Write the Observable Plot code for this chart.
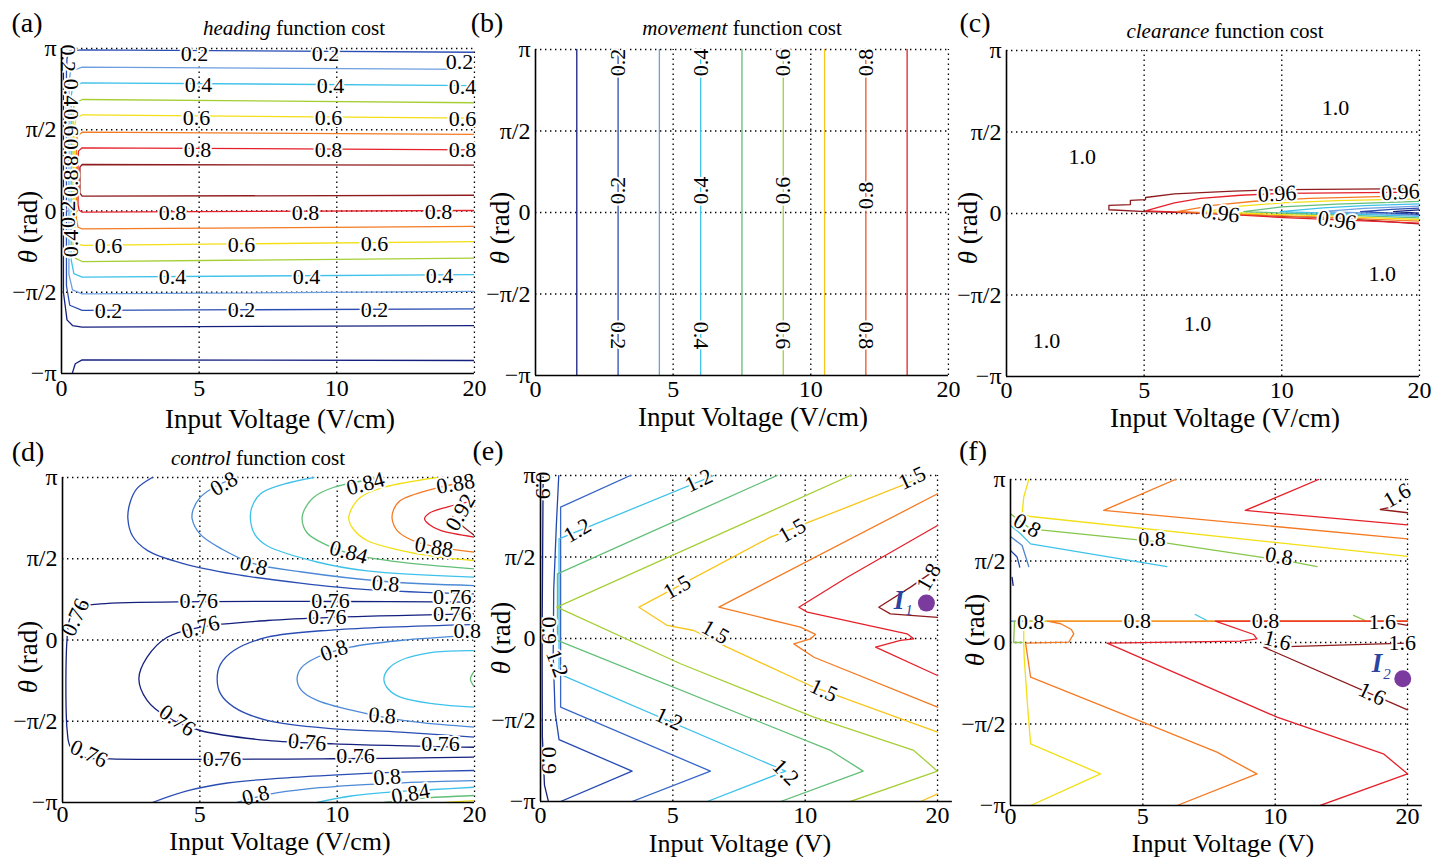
<!DOCTYPE html>
<html><head><meta charset="utf-8">
<script src="https://cdn.jsdelivr.net/npm/d3@7"></script>
<script src="https://cdn.jsdelivr.net/npm/@observablehq/plot@0.6"></script>
<style>
body{margin:0;background:#fff;}
#root{position:relative;width:1445px;height:857px;overflow:hidden;font-family:"Liberation Serif","Times New Roman",serif;color:#000;background:#fff;}
.abs{position:absolute;white-space:nowrap;line-height:1;}
</style></head><body><div id="root"></div>
<script>
// ---------- shared axis data ----------
const xTicks = [0, 5, 10, 15];
const xTickText = ["0", "5", "10", "20"];
const yTicks = [-1, -0.5, 0, 0.5, 1];
const yTickText = ["\u2212\u03c0", "\u2212\u03c0/2", "0", "\u03c0/2", "\u03c0"];

// ---------- (a) heading function cost ----------
const headingLevels = [0.1, 0.2, 0.3, 0.4, 0.5, 0.6, 0.7, 0.8, 0.9];
const headingLines = [
  {level: 0.1, pts: [[0.07,1],[0.07,-0.5],[0.2,-0.67],[0.4,-0.705],[0.75,-0.715],[15,-0.705]]},
  {level: 0.1, pts: [[0.39,-1],[0.5,-0.94],[0.75,-0.916],[15,-0.92]]},
  {level: 0.2, pts: [[15,0.977],[0.75,0.992],[0.3,0.985],[0.2,0.94],[0.18,0.85],[0.18,-0.46],[0.3,-0.58],[0.75,-0.612],[15,-0.602]]},
  {level: 0.3, pts: [[15,0.871],[0.75,0.885],[0.33,0.86],[0.27,0.79],[0.27,-0.39],[0.4,-0.485],[0.75,-0.51],[15,-0.495]]},
  {level: 0.4, pts: [[15,0.772],[0.75,0.789],[0.4,0.765],[0.35,0.7],[0.35,-0.3],[0.45,-0.385],[0.75,-0.407],[15,-0.391]]},
  {level: 0.5, pts: [[15,0.666],[0.75,0.686],[0.46,0.66],[0.42,0.6],[0.42,-0.22],[0.5,-0.29],[0.75,-0.311],[15,-0.29]]},
  {level: 0.6, pts: [[15,0.571],[0.75,0.592],[0.52,0.57],[0.48,0.52],[0.48,-0.14],[0.55,-0.2],[0.75,-0.212],[15,-0.188]]},
  {level: 0.7, pts: [[15,0.471],[0.75,0.485],[0.57,0.46],[0.54,0.42],[0.54,-0.05],[0.6,-0.1],[0.75,-0.11],[15,-0.095]]},
  {level: 0.8, pts: [[15,0.376],[0.75,0.389],[0.62,0.37],[0.6,0.33],[0.6,0.04],[0.64,0.005],[0.75,-0.007],[15,0.003]]},
  {level: 0.9, pts: [[15,0.282],[0.75,0.286],[0.67,0.27],[0.67,0.11],[0.75,0.091],[15,0.097]]}
];
const headingLabels = [
  [4.83,0.969,"0.2"],[9.59,0.969,"0.2"],[14.46,0.92,"0.2"],
  [4.98,0.778,"0.4"],[9.77,0.772,"0.4"],[14.57,0.766,"0.4"],
  [4.9,0.575,"0.6"],[9.7,0.575,"0.6"],[14.57,0.569,"0.6"],
  [4.94,0.378,"0.8"],[9.7,0.378,"0.8"],[14.57,0.378,"0.8"],
  [4.03,-0.009,"0.8"],[8.86,-0.009,"0.8"],[13.69,-0.003,"0.8"],
  [1.71,-0.218,"0.6"],[6.54,-0.206,"0.6"],[11.37,-0.2,"0.6"],
  [4.03,-0.409,"0.4"],[8.9,-0.403,"0.4"],[13.73,-0.397,"0.4"],
  [1.71,-0.618,"0.2"],[6.54,-0.612,"0.2"],[11.37,-0.606,"0.2"],
  [0.22,0.94,"0.2",90],[0.36,0.73,"0.4",90],[0.36,0.545,"0.6",90],[0.36,0.36,"0.8",90],
  [0.33,0.17,"0.8",-90],[0.25,-0.02,"0.2",-90],[0.36,-0.2,"0.4",-90]
];

// ---------- (b) movement function cost ----------
const movementLevels = [0.1, 0.2, 0.3, 0.4, 0.5, 0.6, 0.7, 0.8, 0.9];
const movementVoltage = [1.5, 3, 4.5, 6, 7.5, 9, 10.5, 12, 13.5];
const movementLabels = [
  [3,0.92,"0.2",-90],[6,0.92,"0.4",-90],[9,0.92,"0.6",-90],[12,0.92,"0.8",-90],
  [3,0.135,"0.2",-90],[6,0.135,"0.4",-90],[9,0.135,"0.6",-90],[12,0.104,"0.8",-90],
  [3,-0.755,"0.2",90],[6,-0.755,"0.4",90],[9,-0.755,"0.6",90],[12,-0.755,"0.8",90]
];

// ---------- (c) clearance function cost ----------
const clearanceLevels = [0.91, 0.92, 0.93, 0.94, 0.95, 0.96, 0.97, 0.98, 0.99];
const clearanceLines = [
  {level: 0.99, pts: [[15,-0.064],[11.9,-0.027],[10.07,-0.018],[7.05,0.002],[5.05,0.012],[3.72,0.023],[3.72,0.05],[4.5,0.055],[4.5,0.08],[5.05,0.085],[5.05,0.098],[6.1,0.12],[8.25,0.137],[10.07,0.147],[15,0.153]]},
  {level: 0.98, pts: [[15,-0.059],[10.07,-0.025],[7.05,0.004],[5.05,0.016],[6.1,0.065],[7.05,0.093],[8.5,0.112],[10.07,0.124],[15,0.131]]},
  {level: 0.97, pts: [[15,-0.047],[12.5,-0.03],[10.07,-0.015],[8,0.0],[6.2,0.012],[7.5,0.05],[9,0.075],[11,0.093],[15,0.11]]},
  {level: 0.96, pts: [[15,-0.037],[13,-0.024],[11,-0.012],[9,0.0],[7.17,0.012],[8.5,0.045],[10,0.065],[12,0.079],[15,0.09]]},
  {level: 0.95, pts: [[15,-0.027],[13,-0.015],[10.5,0.0],[8.62,0.012],[10,0.04],[12,0.058],[15,0.075]]},
  {level: 0.94, pts: [[15,-0.018],[12,0.0],[9.95,0.012],[11.5,0.035],[13,0.048],[15,0.059]]},
  {level: 0.93, pts: [[15,-0.012],[13,0.003],[11.4,0.012],[13,0.032],[15,0.045]]},
  {level: 0.92, pts: [[15,-0.006],[12.86,0.012],[14,0.025],[15,0.033]]},
  {level: 0.91, pts: [[15,0.002],[14.06,0.012],[15,0.022]]}
];
const clearanceLabels = [
  [11.95,0.65,"1.0"],[2.75,0.344,"1.0"],[13.65,-0.368,"1.0"],[6.94,-0.675,"1.0"],[1.45,-0.779,"1.0"],
  [9.83,0.121,"0.96",-3],[7.77,0.002,"0.96",8],[14.31,0.131,"0.96",-3],[12.01,-0.043,"0.96",8]
];

// ---------- (d) control function cost ----------
const controlLevels = [0.76, 0.78, 0.8, 0.82, 0.84, 0.86, 0.88, 0.9, 0.92];
const controlLines = [
  {level: 0.76, pts: [[15,0.233],[9.88,0.237],[5,0.236],[1.38,0.222],[0.65,0.202],[0.29,0.14],[0.17,0.017],[0.17,-0.557],[0.29,-0.659],[0.78,-0.721],[1.75,-0.731],[9.88,-0.731],[15,-0.721]]},
  {level: 0.76, pts: [[15,0.161],[9.88,0.14],[7.45,0.12],[5.02,0.079],[3.81,0.017],[3.08,-0.106],[2.78,-0.239],[3.08,-0.372],[3.81,-0.475],[5.02,-0.557],[7.45,-0.618],[9.88,-0.639],[15,-0.66]]},
  {level: 0.78, pts: [[3.27,1],[2.7,0.93],[2.45,0.84],[2.38,0.746],[2.55,0.64],[3.1,0.55],[4.4,0.47],[6.24,0.405],[8.66,0.35],[11.09,0.31],[15,0.284]]},
  {level: 0.78, pts: [[15,0.095],[9.88,0.0625],[7.45,0.017],[6.24,-0.065],[5.75,-0.15],[5.63,-0.239],[5.75,-0.33],[6.24,-0.413],[7.45,-0.495],[9.88,-0.547],[12.3,-0.567],[15,-0.598]]},
  {level: 0.78, pts: [[3.27,-1],[4.5,-0.93],[6,-0.88],[8,-0.85],[10,-0.83],[12,-0.815],[15,-0.803]]},
  {level: 0.8, pts: [[6.36,1],[5.63,0.951],[5.02,0.879],[4.75,0.8],[4.72,0.746],[5.02,0.65],[5.8,0.56],[6.96,0.47],[8.66,0.42],[11.76,0.36],[15,0.335]]},
  {level: 0.8, pts: [[15,0.028],[12.3,-0.003],[10.48,-0.044],[9.27,-0.106],[8.7,-0.17],[8.54,-0.239],[8.7,-0.31],[9.27,-0.372],[11.09,-0.454],[12.91,-0.506],[15,-0.536]]},
  {level: 0.8, pts: [[6.36,-1],[7.5,-0.95],[9,-0.915],[11,-0.89],[13,-0.875],[15,-0.865]]},
  {level: 0.82, pts: [[9.15,1],[8.06,0.959],[7.21,0.9],[6.9,0.82],[6.84,0.746],[7.0,0.65],[7.45,0.58],[9.27,0.48],[11.09,0.425],[15,0.387]]},
  {level: 0.82, pts: [[15,-0.065],[13.52,-0.075],[12.3,-0.126],[11.85,-0.18],[11.7,-0.239],[11.85,-0.3],[12.3,-0.352],[13.52,-0.393],[15,-0.413]]},
  {level: 0.82, pts: [[9.27,-1],[10.5,-0.96],[12,-0.935],[13.5,-0.92],[15,-0.906]]},
  {level: 0.84, pts: [[11.7,1],[9.88,0.94],[9.15,0.879],[8.8,0.8],[8.72,0.746],[8.9,0.66],[9.6,0.585],[10.48,0.53],[12.3,0.479],[15,0.438]]},
  {level: 0.84, pts: [[15,-0.19],[14.85,-0.24],[15,-0.29]]},
  {level: 0.84, pts: [[11.7,-1],[13,-0.975],[15,-0.957]]},
  {level: 0.86, pts: [[13.64,1],[11.7,0.94],[10.85,0.879],[10.5,0.8],[10.42,0.746],[10.6,0.68],[11.09,0.612],[12.3,0.551],[13.52,0.514],[15,0.489]]},
  {level: 0.86, pts: [[13.96,-1],[15,-0.988]]},
  {level: 0.88, pts: [[15,0.982],[13.5,0.93],[12.3,0.858],[12.05,0.8],[12.0,0.746],[12.2,0.67],[12.91,0.602],[15,0.54]]},
  {level: 0.9, pts: [[15,0.858],[14.0,0.818],[13.35,0.78],[13.18,0.746],[13.35,0.71],[13.76,0.674],[15,0.633]]},
  {level: 0.92, pts: [[14.2,0.76],[14.5,0.71],[15,0.643]]}
];
const controlLabels = [
  [5.87,0.961,"0.8",-30],[11.03,0.961,"0.84",-15],[14.31,0.961,"0.88",-10],[14.49,0.786,"0.92",-60],
  [6.96,0.458,"0.8",15],[10.42,0.54,"0.84",15],[13.52,0.571,"0.88",10],[11.76,0.346,"0.8",5],
  [4.96,0.243,"0.76"],[9.76,0.243,"0.76"],[14.19,0.263,"0.76"],
  [5.02,0.079,"0.76",-15],[9.64,0.141,"0.76"],[14.19,0.161,"0.76"],[14.73,0.058,"0.8"],
  [0.47,0.14,"0.76",-65],[9.88,-0.065,"0.8",-20],[4.18,-0.495,"0.76",35],[11.64,-0.465,"0.8",5],
  [8.91,-0.629,"0.76",5],[13.76,-0.639,"0.76"],
  [0.96,-0.7,"0.76",25],[5.81,-0.731,"0.76"],[10.67,-0.711,"0.76"],
  [11.82,-0.844,"0.8",-5],[7.03,-0.957,"0.8",-15],[12.67,-0.946,"0.84",-10]
];

// ---------- (e) total cost, input I1 ----------
const totalELevels = [0.9, 1.0, 1.1, 1.2, 1.3, 1.4, 1.5, 1.6, 1.7, 1.8];
const totalELines = [
  {level: 0.9, pts: [[0.1,1],[0.08,0.5],[0.06,0],[0.07,-0.6],[0.15,-0.9],[0.3,-1]]},
  {level: 1.0, pts: [[0.69,1],[0.6,0.7],[0.5,0.3],[0.48,-0.1],[0.55,-0.45],[0.7,-0.62],[3.46,-0.814],[0.76,-1]]},
  {level: 1.1, pts: [[3.4,1],[0.76,0.806],[0.76,-0.421],[6.42,-0.814],[3.46,-1]]},
  {level: 1.2, pts: [[6.55,1],[0.7,0.611],[0.7,-0.217],[9.26,-0.814],[6.3,-1]]},
  {level: 1.3, pts: [[8.94,1],[0.64,0.397],[0.64,-0.012],[10.96,-0.687],[12.19,-0.814],[9.07,-1]]},
  {level: 1.4, pts: [[11.71,1],[0.62,0.192],[5.29,-0.155],[10.33,-0.483],[14.1,-0.687],[15,-0.814],[11.71,-1]]},
  {level: 1.5, pts: [[14.6,1],[11.59,0.806],[8.69,0.622],[3.72,0.192],[4.79,0.08],[5.79,0.049],[7.05,-0.053],[10.33,-0.299],[15,-0.575]]},
  {level: 1.5, pts: [[14.36,-1],[15,-0.953]]},
  {level: 1.6, pts: [[15,0.888],[6.74,0.192],[9.82,0.07],[10.39,0.025],[10.2,-0.002],[9.57,-0.033],[10.33,-0.115],[15,-0.421]]},
  {level: 1.7, pts: [[15,0.693],[11.59,0.376],[9.76,0.192],[10.08,0.162],[13.85,0.029],[14.1,-0.002],[13.6,-0.012],[12.66,-0.053],[15,-0.227]]},
  {level: 1.8, pts: [[15,0.43],[13.98,0.315],[12.78,0.192],[13.22,0.151],[15,0.13]]}
];
const totalELabels = [
  [0.1,0.939,"0.9",90],[0.31,0.049,"0.9",90],[0.31,-0.748,"0.9",90],
  [1.39,0.663,"1.2",-30],[5.98,0.969,"1.2",-25],[0.63,-0.153,"1.2",70],[4.85,-0.493,"1.2",25],[9.26,-0.82,"1.2",45],
  [5.16,0.315,"1.5",-30],[9.51,0.663,"1.5",-30],[14.04,0.985,"1.5",-25],[6.61,0.039,"1.5",30],[10.7,-0.319,"1.5",25],
  [14.67,0.376,"1.8",-60]
];
const totalEPoints = [{name: "I", sub: "1", x: 14.58, y: 0.217, lx: 13.54, ly: 0.237}];

// ---------- (f) total cost, input I2 ----------
const totalFLevels = [0.0, 0.2, 0.4, 0.6, 0.8, 1.0, 1.2, 1.4, 1.6];
const totalFLines = [
  {level: 0.0, pts: [[0.06,0.4],[0.1,0.35]]},
  {level: 0.2, pts: [[0,0.564],[0.25,0.524],[0.35,0.462]]},
  {level: 0.4, pts: [[0,0.65],[0.44,0.595],[0.69,0.466]]},
  {level: 0.4, pts: [[0,0.131],[1.38,0.131]]},
  {level: 0.6, pts: [[0,0.718],[0.38,0.667],[0.755,0.605],[5.91,0.466]]},
  {level: 0.6, pts: [[6.98,0.172],[7.42,0.135]]},
  {level: 0.8, pts: [[0,0.789],[0.755,0.697],[5.66,0.616],[10.7,0.493],[11.58,0.466]]},
  {level: 0.8, pts: [[0.15,0.131],[0.12,0.0],[0.44,0.0]]},
  {level: 0.8, pts: [[12.96,0.166],[13.4,0.135]]},
  {level: 1.0, pts: [[0.69,1],[0.5,0.892],[0.44,0.789],[0.755,0.773],[15,0.528]]},
  {level: 1.0, pts: [[15,0.131],[0.5,0.131],[0.5,0.0],[0.52,-0.1],[0.57,-0.213],[0.65,-0.4],[0.76,-0.622],[3.4,-0.806],[0.76,-1]]},
  {level: 1.2, pts: [[6.23,1],[3.52,0.81],[15,0.636]]},
  {level: 1.2, pts: [[15,0.131],[1.4,0.131],[1.9,0.115],[2.3,0.08],[2.39,0.053],[2.2,0.002],[0.57,-0.004],[0.76,-0.213],[5.16,-0.499],[7.8,-0.673],[9.31,-0.806],[6.29,-1]]},
  {level: 1.4, pts: [[11.64,1],[8.87,0.81],[15,0.722]]},
  {level: 1.4, pts: [[15,0.131],[7.74,0.131],[9.19,0.049],[9.31,0.022],[8.68,0.008],[3.65,-0.004],[10.07,-0.458],[14.09,-0.683],[15,-0.806],[11.7,-1]]},
  {level: 1.6, pts: [[14.47,0.834],[13.97,0.816],[15,0.796]]},
  {level: 1.6, pts: [[14.2,0.128],[15,0.105]]},
  {level: 1.6, pts: [[15,-0.004],[9.57,-0.029],[15,-0.413]]}
];
const totalFLabels = [
  [14.61,0.902,"1.6",-30],[14.04,0.124,"1.6"],[10.08,0.012,"1.6",15],[14.8,0.0,"1.6"],[13.66,-0.315,"1.6",25],
  [0.63,0.718,"0.8",30],[5.35,0.636,"0.8"],[10.14,0.528,"0.8",10],
  [0.76,0.124,"0.8"],[4.79,0.135,"0.8"],[9.63,0.135,"0.8"]
];
const totalFPoints = [{name: "I", sub: "2", x: 14.82, y: -0.223, lx: 13.85, ly: -0.131}];

// ---------- styles / layout (not data) ----------
const FONT = '"Liberation Serif","Times New Roman",serif';
const C = {navy:"#14207e", blue:"#2a4db3", lblue:"#6e9fe0", cyan:"#3fc2ea", green:"#62bf78",
  ygreen:"#a6cf36", yellow:"#f2df14", gold:"#f8c61a", orange:"#f57a22", ored:"#f0552a", red:"#e6202a", dred:"#8e1b1d"};
const palettes = {
  a: [C.navy, C.blue, C.lblue, C.cyan, C.ygreen, C.yellow, C.orange, C.red, C.dred],
  b: [C.navy, C.blue, C.lblue, C.cyan, C.green, C.ygreen, C.gold, C.ored, C.red],
  c: [C.navy, C.blue, C.lblue, C.cyan, C.green, C.yellow, C.orange, C.red, C.dred],
  d: [C.navy, C.blue, "#4c8ad6", C.cyan, C.green, C.yellow, C.orange, C.red, C.dred],
  e: [C.navy, "#2448b0", "#3766c6", C.cyan, C.green, C.ygreen, C.gold, C.orange, C.red, C.dred],
  f: [C.navy, "#2448b0", "#4f86d0", C.cyan, "#86c64a", C.yellow, C.orange, C.red, C.dred]
};
const layout = {
  a: {L: 61, T: 48, H: 325, pxu: 27.53, xmax: 15, pad: 5},
  b: {L: 535, T: 49, H: 326, pxu: 27.53, xmax: 15, pad: 4},
  c: {L: 1006, T: 50, H: 326, pxu: 27.53, xmax: 15, pad: 4},
  d: {L: 62, T: 477, H: 325, pxu: 27.47, xmax: 15, pad: 2},
  e: {L: 540, T: 475, H: 326, pxu: 26.47, xmax: 15.56, pad: 4},
  f: {L: 1010, T: 479, H: 326, pxu: 26.47, xmax: 15.56, pad: 1}
};
const root = document.getElementById("root");

function drawPanel(key, lines, labels, levels, curve, points) {
  const g = layout[key];
  const ml = 72, mr = 16, mt = 16, mb = 38;
  const width = ml + g.xmax * g.pxu + mr;
  const height = mt + g.H + mb;
  const rows = [];
  lines.forEach((ln, i) => ln.pts.forEach(([x, y]) => rows.push({id: i, level: ln.level, x, y})));
  const dotted = {stroke: "#000", strokeWidth: 1.3, strokeDasharray: "1.4,3.6"};
  const marks = [
    Plot.ruleY([-0.5, 0, 0.5, 1], {x1: 0, x2: 15, ...dotted}),
    Plot.ruleX([5, 10, 15], {y1: -1, y2: 1, ...dotted}),
    Plot.line(rows, {x: "x", y: "y", z: "id", stroke: "level", strokeWidth: 1.3, curve, clip: true}),
    Plot.text(labels, {x: d => d[0], y: d => d[1], text: d => d[2], rotate: d => d[3] || 0,
      fontSize: 22, fontFamily: FONT, fill: "#000", stroke: "#fff", strokeWidth: 4})
  ];
  if (points) {
    marks.push(Plot.dot(points, {x: "x", y: "y", r: 8.5, fill: "#7a3a9e", stroke: "none"}));
    marks.push(Plot.text(points, {x: "lx", y: "ly", text: "name", fontSize: 27, fontFamily: FONT,
      fontStyle: "italic", fontWeight: "bold", fill: "#2b44a0"}));
    marks.push(Plot.text(points, {x: "lx", y: "ly", text: "sub", dx: 10, dy: 10, fontSize: 15, fontFamily: FONT,
      fontStyle: "italic", fill: "#2b44a0"}));
  }
  marks.push(
    Plot.ruleX([0], {y1: -1, y2: 1, stroke: "#000", strokeWidth: 1.6}),
    Plot.ruleY([-1], {x1: 0, x2: g.xmax, stroke: "#000", strokeWidth: 1.6}),
    Plot.axisX(xTicks, {tickFormat: d => xTickText[xTicks.indexOf(d)], tickSize: 0, tickPadding: g.pad, label: null, fontSize: 24}),
    Plot.axisY(yTicks, {tickFormat: d => yTickText[yTicks.indexOf(d)], tickSize: 0, tickPadding: 5, label: null, fontSize: 24})
  );
  const plot = Plot.plot({
    width, height, marginLeft: ml, marginRight: mr, marginTop: mt, marginBottom: mb,
    x: {domain: [0, g.xmax]}, y: {domain: [-1, 1]},
    color: {type: "ordinal", domain: levels, range: palettes[key]},
    style: {fontFamily: FONT, fontSize: "24px", background: "transparent", color: "#000", overflow: "visible"},
    marks
  });
  plot.style.position = "absolute";
  plot.style.left = (g.L - ml) + "px";
  plot.style.top = (g.T - mt) + "px";
  root.appendChild(plot);
}

function txt(html, cx, cy, size, rot) {
  const d = document.createElement("div");
  d.className = "abs";
  d.style.left = cx + "px";
  d.style.top = cy + "px";
  d.style.fontSize = size + "px";
  d.style.transform = `translate(-50%,-50%) rotate(${rot || 0}deg)`;
  d.innerHTML = html;
  root.appendChild(d);
}

const movementLines = movementLevels.map((lv, i) => ({level: lv, pts: [[movementVoltage[i], -1], [movementVoltage[i], 1]]}));

drawPanel("a", headingLines, headingLabels, headingLevels, "linear");
drawPanel("b", movementLines, movementLabels, movementLevels, "linear");
drawPanel("c", clearanceLines, clearanceLabels, clearanceLevels, "linear");
drawPanel("d", controlLines, controlLabels, controlLevels, "catmull-rom");
drawPanel("e", totalELines, totalELabels, totalELevels, "linear", totalEPoints);
drawPanel("f", totalFLines, totalFLabels, totalFLevels, "linear", totalFPoints);

// panel letters
[["(a)",27,23],["(b)",487,23],["(c)",975,23],["(d)",28,452],["(e)",488,451],["(f)",973,451]]
  .forEach(([t,x,y]) => txt(t, x, y, 28));
// titles
txt("<i>heading</i> function cost", 294, 28, 21);
txt("<i>movement</i> function cost", 742, 28, 21);
txt("<i>clearance</i> function cost", 1225, 31, 21);
txt("<i>control</i> function cost", 258, 458, 21);
// x-axis titles
txt("Input Voltage (V/cm)", 280, 419, 27);
txt("Input Voltage (V/cm)", 753, 417, 27);
txt("Input Voltage (V/cm)", 1225, 418, 27);
txt("Input Voltage (V/cm)", 280, 842, 26);
txt("Input Voltage (V)", 740, 844, 26);
txt("Input Voltage (V)", 1223, 844, 26);
// y-axis titles
[[28,227],[500,228],[968,228],[28,657],[501,638],[975,630]].forEach(([x,y]) => txt("<i>\u03b8</i> (rad)", x, y, 27, -90));
</script></body></html>
